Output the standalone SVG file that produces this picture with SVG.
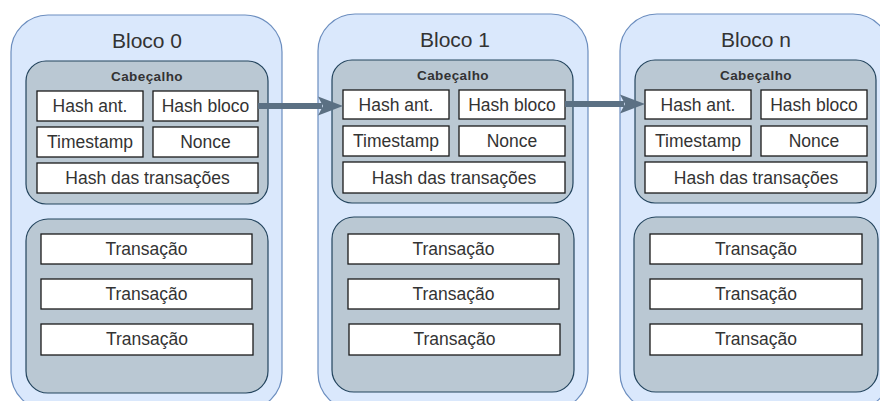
<svg xmlns="http://www.w3.org/2000/svg" width="880" height="401" viewBox="0 0 880 401">
<defs>
<style>
.outer{fill:#dae8fc;stroke:#6c8ebf;stroke-width:1.2}
.panel{fill:#bac8d3;stroke:#23445d;stroke-width:1.2}
.box{fill:#ffffff;stroke:#1a1a1a;stroke-width:1.3}
.t{font-family:"Liberation Sans",Arial,sans-serif;fill:#333333;text-anchor:middle}
.title{font-size:21px}
.cab{font-size:13.5px;font-weight:bold;letter-spacing:0.4px}
.lbl{font-size:17.5px}
.conn{stroke:#5b7083;stroke-width:6;fill:none}
.head{fill:#5b7083;stroke:none}
</style>
</defs>
<rect width="880" height="401" fill="#ffffff"/>

<g id="bloco0">
<rect class="outer" x="11" y="15" width="271" height="395" rx="37"/>
<text class="t title" x="147" y="48">Bloco 0</text>
<g id="cab0">
<rect class="panel" x="26" y="61" width="242" height="143" rx="20"/>
<text class="t cab" x="147" y="81">Cabeçalho</text>
<rect class="box" x="37" y="91" width="106" height="30"/>
<text class="t lbl" x="90" y="112">Hash ant.</text>
<rect class="box" x="153" y="91" width="105" height="30"/>
<text class="t lbl" x="205.5" y="112">Hash bloco</text>
<rect class="box" x="37" y="127" width="106" height="30"/>
<text class="t lbl" x="90" y="148">Timestamp</text>
<rect class="box" x="153" y="127" width="105" height="30"/>
<text class="t lbl" x="205.5" y="148">Nonce</text>
<rect class="box" x="37" y="163" width="221" height="30"/>
<text class="t lbl" x="147.5" y="184">Hash das transações</text>
</g>
<g id="tx0">
<rect class="panel" x="26" y="219" width="242" height="174" rx="22"/>
<rect class="box" x="41" y="234" width="211" height="30"/>
<text class="t lbl" x="146.5" y="255">Transação</text>
<rect class="box" x="41" y="279" width="211" height="30"/>
<text class="t lbl" x="146.5" y="300">Transação</text>
<rect class="box" x="41" y="324" width="212" height="31"/>
<text class="t lbl" x="147" y="345">Transação</text>
</g>
</g>

<g id="bloco1">
<rect class="outer" x="318" y="14" width="270" height="396" rx="37"/>
<text class="t title" x="455" y="47">Bloco 1</text>
<g id="cab1">
<rect class="panel" x="332" y="60" width="241" height="143" rx="20"/>
<text class="t cab" x="453" y="80">Cabeçalho</text>
<rect class="box" x="343" y="90" width="106" height="29"/>
<text class="t lbl" x="396" y="111">Hash ant.</text>
<rect class="box" x="459" y="90" width="106" height="29"/>
<text class="t lbl" x="512" y="111">Hash bloco</text>
<rect class="box" x="343" y="126" width="106" height="30"/>
<text class="t lbl" x="396" y="147">Timestamp</text>
<rect class="box" x="459" y="126" width="106" height="30"/>
<text class="t lbl" x="512" y="147">Nonce</text>
<rect class="box" x="343" y="162" width="222" height="31"/>
<text class="t lbl" x="454" y="184">Hash das transações</text>
</g>
<g id="tx1">
<rect class="panel" x="332" y="217" width="242" height="175" rx="22"/>
<rect class="box" x="348" y="234" width="211" height="30"/>
<text class="t lbl" x="453.5" y="255">Transação</text>
<rect class="box" x="348" y="279" width="211" height="30"/>
<text class="t lbl" x="453.5" y="300">Transação</text>
<rect class="box" x="349" y="324" width="211" height="31"/>
<text class="t lbl" x="454.5" y="345">Transação</text>
</g>
</g>

<g id="blocon">
<rect class="outer" x="620" y="14" width="270" height="396" rx="37"/>
<text class="t title" x="756" y="47">Bloco n</text>
<g id="cabn">
<rect class="panel" x="635" y="60" width="241" height="143" rx="20"/>
<text class="t cab" x="756" y="80">Cabeçalho</text>
<rect class="box" x="645" y="90" width="106" height="29"/>
<text class="t lbl" x="698" y="111">Hash ant.</text>
<rect class="box" x="761" y="90" width="106" height="29"/>
<text class="t lbl" x="814" y="111">Hash bloco</text>
<rect class="box" x="645" y="126" width="106" height="30"/>
<text class="t lbl" x="698" y="147">Timestamp</text>
<rect class="box" x="761" y="126" width="106" height="30"/>
<text class="t lbl" x="814" y="147">Nonce</text>
<rect class="box" x="645" y="162" width="222" height="31"/>
<text class="t lbl" x="756" y="184">Hash das transações</text>
</g>
<g id="txn">
<rect class="panel" x="634" y="217" width="244" height="175" rx="22"/>
<rect class="box" x="650" y="234" width="212" height="30"/>
<text class="t lbl" x="756" y="255">Transação</text>
<rect class="box" x="650" y="279" width="212" height="30"/>
<text class="t lbl" x="756" y="300">Transação</text>
<rect class="box" x="650" y="324" width="212" height="31"/>
<text class="t lbl" x="756" y="345">Transação</text>
</g>
</g>

<g id="connectors">
<line class="conn" x1="258" y1="106" x2="322" y2="106"/>
<polygon class="head" points="343,106 318,96.5 323,106 318,115.5"/>
<line class="conn" x1="565" y1="104" x2="624" y2="104"/>
<polygon class="head" points="645,104 620,94.5 625,104 620,113.5"/>
</g>
</svg>
